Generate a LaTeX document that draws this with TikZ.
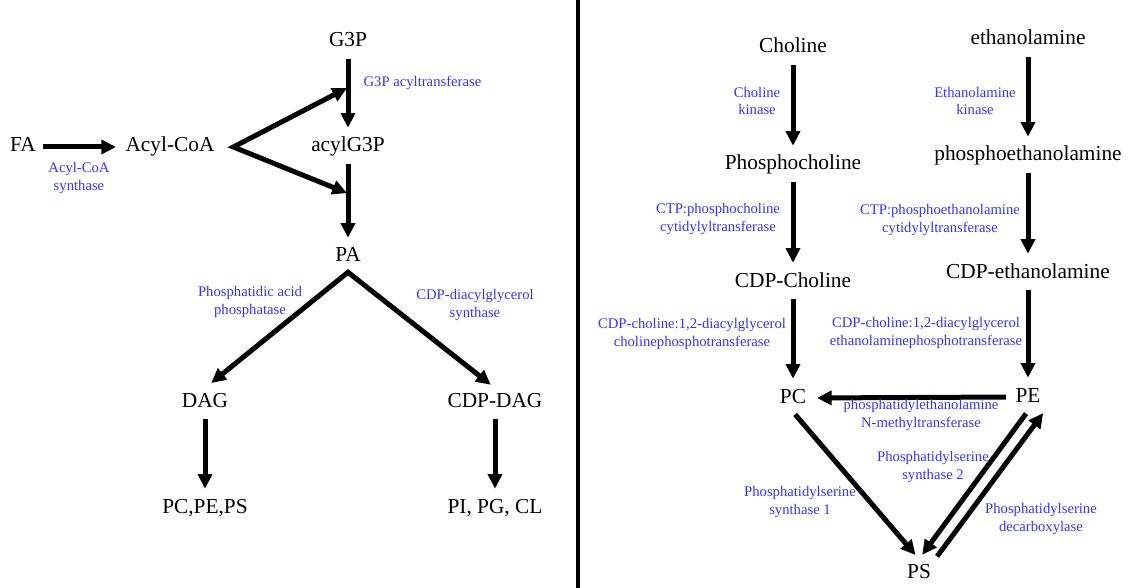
\documentclass[tikz,border=0pt]{standalone}
\usepackage{fontspec}
\setmainfont{Liberation Serif}
\usetikzlibrary{arrows.meta}
\definecolor{enz}{HTML}{3333FF}

\begin{document}
\begin{tikzpicture}[x=0.75pt,y=-0.75pt,>={Triangle[length=11pt,width=10.5pt]},
  lipid/.style={font=\fontsize{16}{19}\selectfont,text height=11pt,text depth=3.5pt,inner sep=3pt},
  enzyme/.style={font=\fontsize{11}{12.8}\selectfont,text=enz,align=center,inner sep=1pt},
  rxn/.style={->,line width=3.75pt,shorten <=2.5pt,shorten >=4pt}]
  \useasboundingbox (0,0) rectangle (1136,588);

  % left: de novo synthesis of PA and its branches
  \node[lipid] (fa) at (23,147) {FA};
  \node[lipid] (acylcoa) at (170,147) {Acyl-CoA};
  \node[lipid] (g3p) at (348,42) {G3P};
  \node[lipid] (acylg3p) at (348,147) {acylG3P};
  \node[lipid] (pa) at (348,257) {PA};
  \node[lipid] (dag) at (205,402) {DAG};
  \node[lipid] (cdpdag) at (495,402) {CDP-DAG};
  \node[lipid] (pcpeps) at (205,508) {PC,PE,PS};
  \node[lipid] (pipgcl) at (495,508) {PI, PG, CL};
  \coordinate (g3pjoin) at (347,88);
  \coordinate (pajoin) at (347,193);

  \draw[rxn] (fa) -- (acylcoa);
  \draw[rxn] (g3p) -- (acylg3p);
  \draw[rxn] (acylg3p) -- (pa);
  \draw[<->,line width=3.75pt,line join=miter] (g3pjoin) -- ([xshift=11pt]acylcoa.east) -- (pajoin);
  \draw[<->,line width=3.75pt,line join=miter,shorten <=6pt,shorten >=4pt]
    (dag.north) -- ([yshift=-1pt]pa.south) -- (cdpdag.north);
  \draw[rxn] (dag) -- (pcpeps);
  \draw[rxn] (cdpdag) -- (pipgcl);

  \node[enzyme] (acs) at (79,178) {Acyl-CoA\\synthase};
  \node[enzyme,anchor=west] (gpat) at (362,83) {G3P acyltransferase};
  \node[enzyme] (pap) at (250,302) {Phosphatidic acid\\phosphatase};
  \node[enzyme] (cds) at (475,305) {CDP-diacylglycerol\\synthase};

  \draw[line width=2.5pt] (578,0) -- (578,588);

  % right: Kennedy pathway and PC/PE/PS exchange
  \node[lipid] (cho) at (793,48) {Choline};
  \node[lipid] (pcho) at (793,165) {Phosphocholine};
  \node[lipid] (cdpcho) at (793,282) {CDP-Choline};
  \node[lipid] (pc) at (793,398) {PC};
  \node[lipid] (eta) at (1028,40) {ethanolamine};
  \node[lipid] (peta) at (1028,156) {phosphoethanolamine};
  \node[lipid] (cdpeta) at (1028,273) {CDP-ethanolamine};
  \node[lipid] (pe) at (1028,397) {PE};
  \node[lipid] (ps) at (919,573) {PS};

  \draw[rxn] (cho) -- (pcho);
  \draw[rxn] (pcho) -- (cdpcho);
  \draw[rxn] (cdpcho) -- (pc);
  \draw[rxn] (eta) -- (peta);
  \draw[rxn] (peta) -- (cdpeta);
  \draw[rxn] (cdpeta) -- (pe);
  \draw[rxn,shorten <=4pt,shorten >=5pt] (pe.west) -- (pc.east);
  \draw[rxn] (pc.south) -- (ps.north);
  \draw[rxn] (pe.south) -- (ps.north);
  \draw[rxn,shorten >=2pt] (ps.north east) -- (pe.south east);

  \node[enzyme] (ck) at (757,101) {Choline\\kinase};
  \node[enzyme] (ek) at (975,101) {Ethanolamine\\kinase};
  \node[enzyme] (cct) at (718,219) {CTP:phosphocholine\\cytidylyltransferase};
  \node[enzyme] (ect) at (940,220) {CTP:phosphoethanolamine\\cytidylyltransferase};
  \node[enzyme] (cpt) at (692,334) {CDP-choline:1,2-diacylglycerol\\cholinephosphotransferase};
  \node[enzyme] (ept) at (926,333) {CDP-choline:1,2-diacylglycerol\\ethanolaminephosphotransferase};
  \node[enzyme] (pemt) at (921,415) {phosphatidylethanolamine\\N-methyltransferase};
  \node[enzyme] (pss1) at (800,502) {Phosphatidylserine\\synthase 1};
  \node[enzyme] (pss2) at (933,467) {Phosphatidylserine\\synthase 2};
  \node[enzyme] (psd) at (1041,519) {Phosphatidylserine\\decarboxylase};
\end{tikzpicture}
\end{document}
